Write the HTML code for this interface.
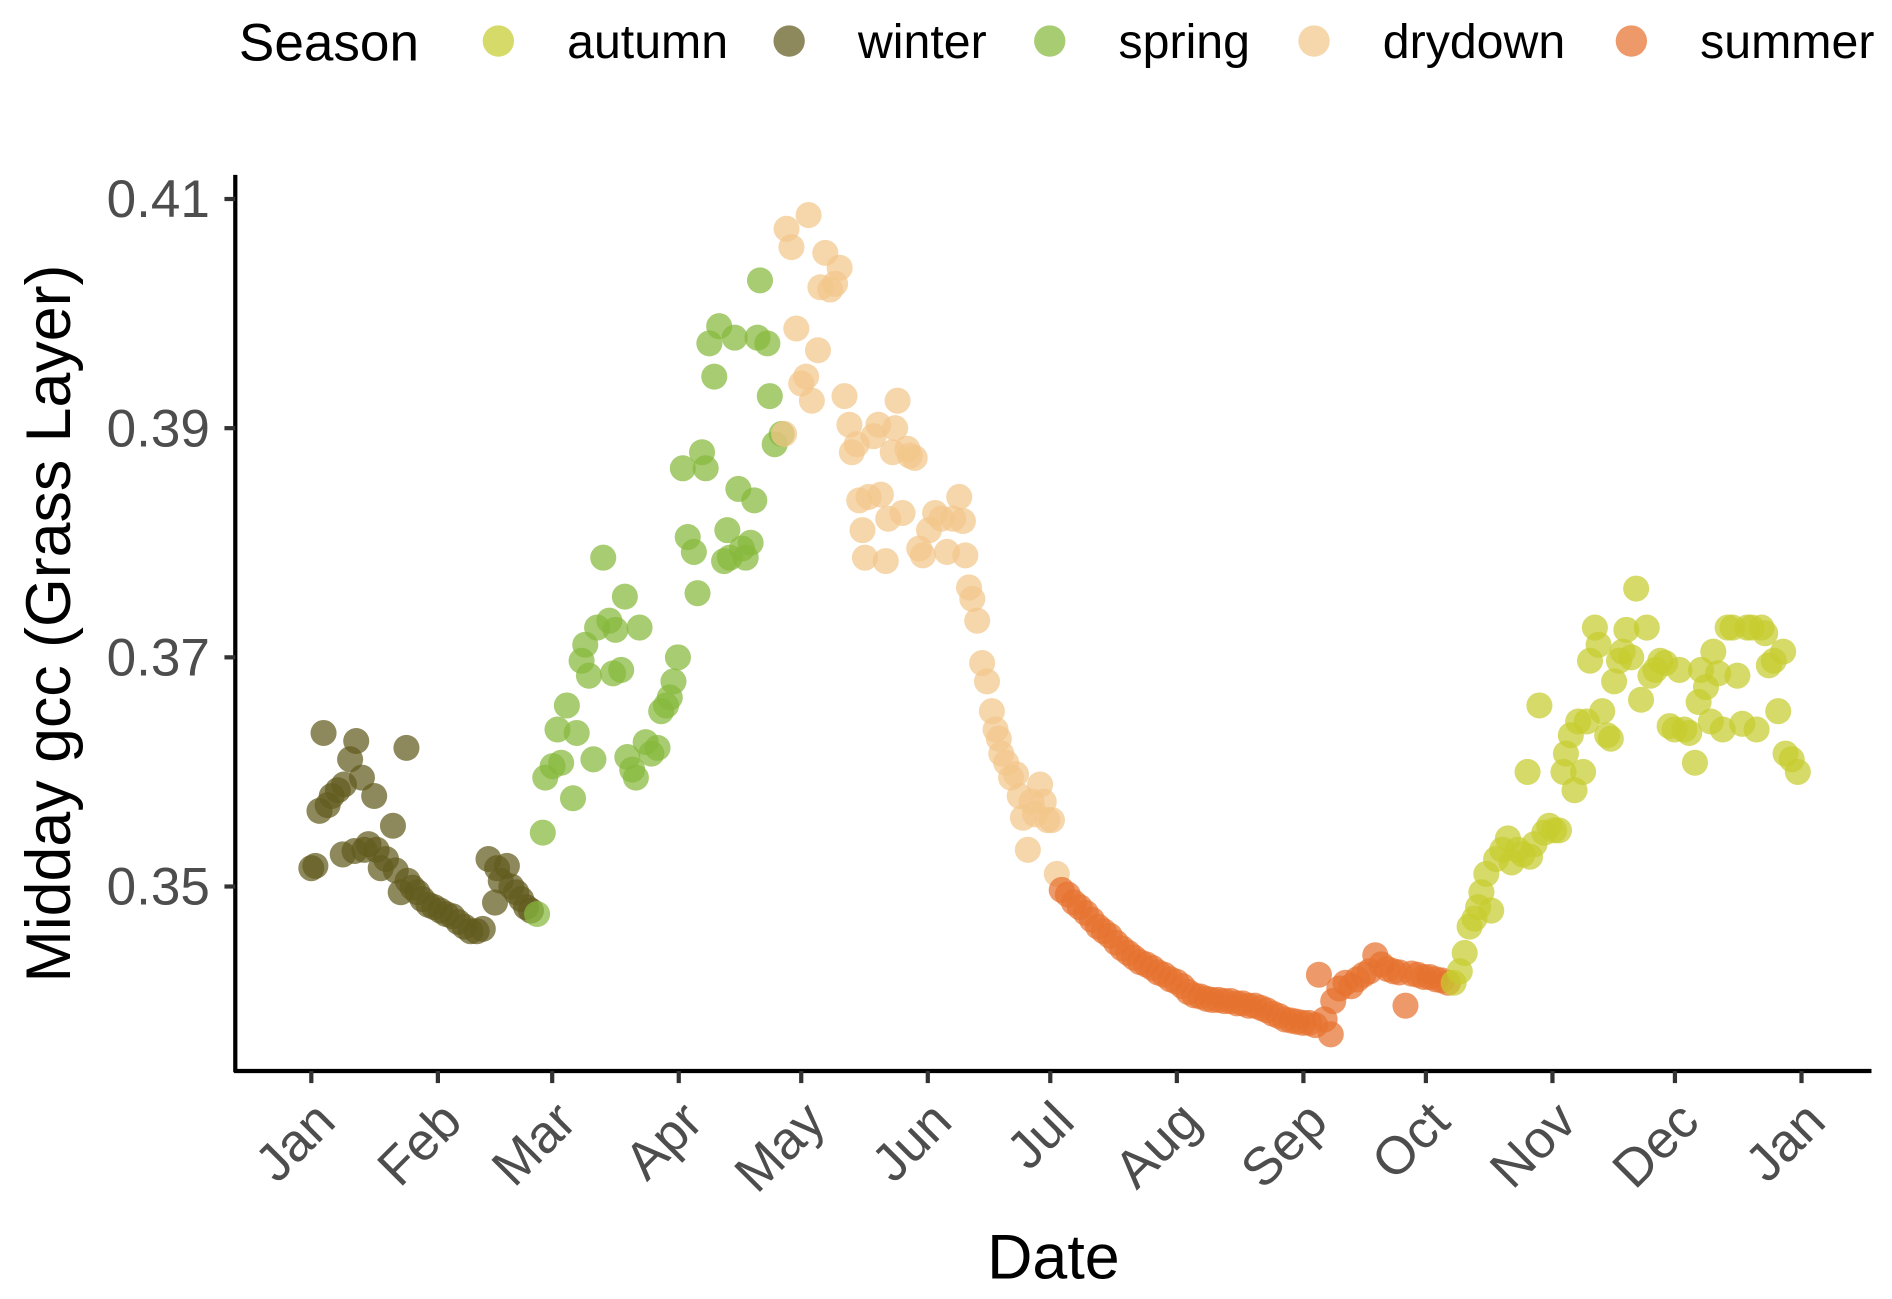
<!DOCTYPE html>
<html><head><meta charset="utf-8"><style>
html,body{margin:0;padding:0;background:#fff;}
svg{display:block;font-family:"Liberation Sans",Arial,sans-serif;}
</style></head><body>
<svg id="chart" width="1892" height="1299" viewBox="0 0 1568 1077" preserveAspectRatio="none" xmlns="http://www.w3.org/2000/svg">
<g id="legend"></g>
<g id="points"></g>
<g id="axes"></g>
</svg>
<script>
const seasons = ["winter","spring","drydown","summer","autumn"];
const seasonColors = {autumn:"#c6cc2e",winter:"#625b1e",spring:"#86b83b",drydown:"#f3c68a",summer:"#e6722f"};
const legendOrder = ["autumn","winter","spring","drydown","summer"];
const monthLabels = ["Jan","Feb","Mar","Apr","May","Jun","Jul","Aug","Sep","Oct","Nov","Dec","Jan"];
const monthDays = [0,31,59,90,120,151,181,212,243,273,304,334,365];
const yTicks = [0.35,0.37,0.39,0.41];

const winterDays = [0,1,2,3,4,5,6.5,7.7,8,9.5,10.6,11,12.4,13,14,15.4,16,17,18.3,20,20.7,21.9,23.3,23.6,24.8,26,27.2,28.7,30.1,31.6,33,34.6,36,37.5,39,40.5,42,43.4,45,45.5,46.4,47.9,49,50.2,51.4,52.6,53.8];
const winterVals = [0.3516,0.3518,0.3566,0.3634,0.3571,0.3579,0.3584,0.3528,0.3589,0.3611,0.3531,0.3627,0.3595,0.3532,0.3537,0.3579,0.3532,0.3516,0.3524,0.3553,0.3514,0.3495,0.3621,0.3505,0.3499,0.3495,0.3489,0.3484,0.3482,0.3479,0.3476,0.3474,0.3469,0.3465,0.3461,0.3461,0.3463,0.3524,0.3486,0.3516,0.3505,0.3518,0.35,0.3495,0.3489,0.3482,0.3479];

const springDays = [55.3,56.7,57.3,59.1,60.3,61.2,62.6,64.1,65,66.2,67.1,68,69.1,70,71.5,73,73.9,74.5,75.9,76.8,77.4,78.6,79.5,80.4,81.9,83.3,84.8,85.7,86.9,87.8,88.7,89.8,91,92.2,93.7,94.6,95.7,96.6,97.5,98.7,99.9,101.1,101.9,102.5,103.7,104.6,105.5,106.4,107.6,108.5,109.3,109.9,111.7,112.3,113.5,115.2];
const springVals = [0.3476,0.3547,0.3595,0.3605,0.3637,0.3608,0.3658,0.3577,0.3634,0.3697,0.3711,0.3684,0.3611,0.3726,0.3787,0.3732,0.3686,0.3724,0.3689,0.3753,0.3613,0.3602,0.3595,0.3726,0.3626,0.3616,0.3621,0.3653,0.3658,0.3665,0.3679,0.37,0.3865,0.3805,0.3792,0.3756,0.3879,0.3865,0.3974,0.3945,0.3989,0.3784,0.3811,0.3787,0.3979,0.3847,0.3795,0.3787,0.38,0.3837,0.3979,0.4029,0.3974,0.3928,0.3886,0.3895];

const drydownDays = [115.8,116.4,117.6,118.8,120,121.2,121.8,122.6,124.1,124.7,125.9,127.1,128.3,129.4,130.6,131.8,132.4,133.6,134.2,135,135.6,136.5,137.7,138.9,139.5,140.7,141.3,142.4,143,143.6,144.8,146,146.6,147.8,148.9,149.8,151.3,152.8,154.3,155.7,157.2,158.7,159.6,160.2,161.1,161.9,163.1,164.3,165.5,166.7,167.6,168.4,169,170.2,171.4,172.6,173.5,174.3,175.5,176.4,177.3,178.5,179.4,180.3,181.4,182.6];
const drydownVals = [0.3895,0.4074,0.4058,0.3987,0.3939,0.3945,0.4086,0.3924,0.3968,0.4023,0.4053,0.4021,0.4026,0.404,0.3928,0.3903,0.3879,0.3886,0.3837,0.3811,0.3787,0.384,0.3893,0.3903,0.3842,0.3784,0.3821,0.3879,0.39,0.3924,0.3826,0.3882,0.3876,0.3874,0.3795,0.3789,0.3811,0.3826,0.3821,0.3792,0.3821,0.384,0.3819,0.3789,0.3761,0.3751,0.3732,0.3695,0.3679,0.3653,0.3637,0.3629,0.3616,0.3608,0.3595,0.3598,0.3579,0.356,0.3532,0.3574,0.3563,0.3589,0.3574,0.3558,0.3558,0.3511];

const summerDays = [183.8,185.3,186.8,188.2,189.7,191.2,192.7,194.1,195.6,197.1,198.6,200.1,201.5,203,204.5,206,207.4,208.9,210.4,211.9,213.4,214.8,216.3,217.8,219.3,220.7,222.2,223.7,225.2,226.7,228.1,229.6,231.1,232.6,234,235.5,237,238.5,240,241.4,242.9,244.4,245.9,246.8,248.2,249.7,250.3,251.8,253.3,254.7,256.2,257.7,259.2,260.6,262.1,263.6,265.1,266.5,268,269.5,271,272.5,273.9,275.4,276.9,278.4];
const summerVals = [0.3497,0.3493,0.3486,0.3482,0.3477,0.3471,0.3465,0.3461,0.3457,0.3451,0.3446,0.3442,0.3438,0.3434,0.3432,0.3429,0.3425,0.3423,0.3419,0.3417,0.3413,0.3408,0.3405,0.3404,0.3402,0.3401,0.3401,0.34,0.34,0.3398,0.3398,0.3396,0.3396,0.3394,0.3392,0.3389,0.3387,0.3384,0.3383,0.3382,0.3381,0.3381,0.3379,0.3423,0.3384,0.3371,0.34,0.3411,0.3416,0.3413,0.3419,0.3423,0.3426,0.344,0.3432,0.3428,0.3426,0.3425,0.3396,0.3424,0.3423,0.3421,0.3421,0.3419,0.3418,0.3416];

const autumnDays = [279.8,281.3,282.5,283.7,284.9,285.8,286.6,287.8,289,290.2,291.7,293.1,294,295.5,296.7,297.9,298.5,299.6,300.8,302,303.2,304.4,305.6,306.7,307.3,308.5,309.4,310.3,311.5,312.4,313.2,314.4,315.3,316.2,317.4,318.3,319.1,320.3,321.2,322.1,323.3,324.5,325.7,327.1,328,329.2,330.4,331.6,332.7,333.9,335.1,336.3,337.5,338.9,339.8,340.4,341.6,342.8,343.4,344.6,345.7,346.9,348.1,349.3,350.5,351.7,352.8,354,355.2,356.1,357,358.2,359.3,360.5,361.1,362.6,364.1];
const autumnVals = [0.3416,0.3426,0.3442,0.3465,0.3472,0.3482,0.3495,0.3511,0.3479,0.3524,0.3532,0.3542,0.3521,0.3532,0.3528,0.36,0.3526,0.3537,0.3658,0.3547,0.3553,0.3549,0.3549,0.36,0.3616,0.3632,0.3584,0.3644,0.36,0.3644,0.3697,0.3726,0.3711,0.3653,0.3632,0.3629,0.3679,0.3697,0.3705,0.3724,0.37,0.376,0.3663,0.3726,0.3684,0.3689,0.3697,0.3695,0.364,0.3637,0.3689,0.3637,0.3634,0.3608,0.3661,0.3689,0.3674,0.3644,0.3705,0.3686,0.3637,0.3726,0.3726,0.3684,0.3642,0.3726,0.3726,0.3637,0.3726,0.3721,0.3693,0.3697,0.3653,0.3705,0.3616,0.3611,0.36];

const NS = "http://www.w3.org/2000/svg";
const X0 = 258, X1 = 1493, Y35 = 735, PXV = 9500;
function xScale(d){ return X0 + d * (X1 - X0) / 365; }
function yScale(v){ return Y35 - (v - 0.35) * PXV; }
function mk(tag, attrs, parent){ const e=document.createElementNS(NS,tag); for(const k in attrs) e.setAttribute(k,attrs[k]); parent.appendChild(e); return e; }

const series = {winter:[winterDays,winterVals],spring:[springDays,springVals],drydown:[drydownDays,drydownVals],summer:[summerDays,summerVals],autumn:[autumnDays,autumnVals]};
const pg = document.getElementById("points");
seasons.forEach(s=>{
  const [ds,vs]=series[s];
  ds.forEach((d,i)=>{
    const c = mk("circle",{cx:xScale(d),cy:yScale(vs[i]),r:10.8,fill:seasonColors[s],"fill-opacity":0.72},pg);
    
    
  });
});

const ax = document.getElementById("axes");
const yl = mk("line",{x1:195,y1:145,x2:195,y2:889,stroke:"#000","stroke-width":3.5},ax);


const xl = mk("line",{x1:194,y1:888,x2:1551,y2:888,stroke:"#000","stroke-width":3.5},ax);


yTicks.forEach(v=>{
  const y=yScale(v);
  mk("line",{x1:186,y1:y,x2:195,y2:y,stroke:"#333","stroke-width":3.5},ax);
  const t = mk("text",{x:174,y:y+15,"text-anchor":"end","font-size":44,fill:"#4d4d4d"},ax);
  t.textContent = v.toFixed(2);
  
  
});
monthDays.forEach((d,i)=>{
  const x=xScale(d);
  mk("line",{x1:x,y1:888,x2:x,y2:898,stroke:"#333","stroke-width":3.5},ax);
  const t = mk("text",{x:x+22,y:932,"text-anchor":"end","font-size":44,fill:"#4d4d4d",transform:`rotate(-45 ${x+22} 932)`},ax);
  t.textContent = monthLabels[i];
  
  
});
const xt = mk("text",{x:873,y:1060,"text-anchor":"middle","font-size":52,fill:"#000"},ax);
xt.textContent="Date";


const yt = mk("text",{x:0,y:0,"text-anchor":"middle","font-size":52,fill:"#000",transform:"translate(58 517) rotate(-90)"},ax);
yt.textContent="Midday gcc (Grass Layer)";



const lg = document.getElementById("legend");
const lt = mk("text",{x:198,y:50,"font-size":44,fill:"#000"},lg);
lt.textContent="Season";


const legX = [413,654,870,1089,1352];
legendOrder.forEach((s,i)=>{
  const c = mk("circle",{cx:legX[i],cy:34,r:13,fill:seasonColors[s],"fill-opacity":0.72},lg);
  
  
  const t = mk("text",{x:legX[i]+57,y:48,"font-size":40,fill:"#000"},lg);
  t.textContent = s;
  
  
});
</script>
</body></html>
